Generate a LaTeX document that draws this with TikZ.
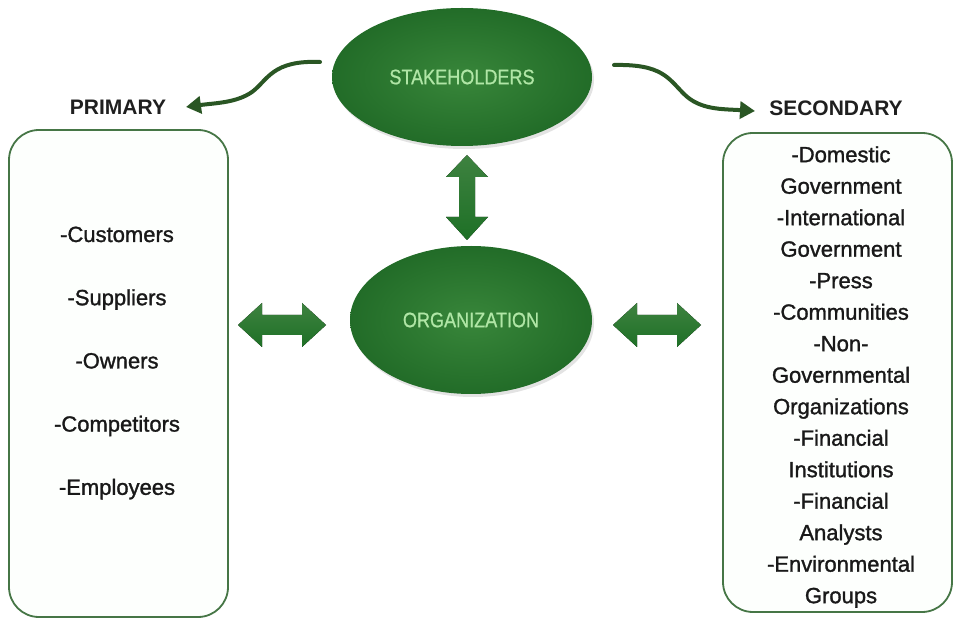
\documentclass[tikz,border=0pt]{standalone}
\usepackage{fontspec}
\setmainfont{Liberation Sans}
\newfontfamily\narrowfont[FakeStretch=0.86,FakeBold=0.8]{Liberation Sans}
\newfontfamily\listfont[FakeBold=1.3]{Liberation Sans}
\usetikzlibrary{shapes.geometric,shadows,arrows.meta}
\definecolor{ellgreenA}{RGB}{56,134,58}
\definecolor{ellgreenB}{RGB}{34,108,40}
\definecolor{elltext}{RGB}{176,230,166}
\definecolor{arrgreenA}{RGB}{62,130,64}
\definecolor{arrgreenB}{RGB}{30,112,38}
\definecolor{curvegreen}{RGB}{42,86,36}
\definecolor{boxline}{RGB}{70,118,70}
\definecolor{boxfill}{RGB}{253,255,253}
\tikzset{
  ellnode/.style={ellipse, inner color=ellgreenA, outer color=ellgreenB,
    text=elltext, font=\narrowfont\fontsize{21}{24}\selectfont,
    drop shadow={opacity=0.22, shadow xshift=2pt, shadow yshift=-3pt}},
  listbox/.style={draw=boxline, line width=1.8pt, fill=boxfill, rounded corners=30pt},
  heading/.style={font=\bfseries\fontsize{21}{24}\selectfont, text=black!88},
  listtext/.style={align=center, text=black!90},
  fatarrow/.style={top color=arrgreenA, bottom color=arrgreenB, draw=none},
  curvearrow/.style={draw=curvegreen, line width=4pt, line cap=round,
    -{Triangle[length=15pt,width=17pt]}}
}
\begin{document}
\begin{tikzpicture}[x=1pt,y=-1pt]
\useasboundingbox (0,0) rectangle (954,620);
% boxes
\draw[listbox] (9,130) rectangle (228,617);
\draw[listbox] (723,133) rectangle (952,612);
% ellipses
\node[ellnode, minimum width=260pt, minimum height=138pt] (stake) at (462,77) {STAKEHOLDERS};
\node[ellnode, minimum width=242pt, minimum height=148pt] (org) at (471,320) {ORGANIZATION};
% headings
\node[heading] (prim) at (118,107) {PRIMARY};
\node[heading] (sec) at (836,108) {SECONDARY};
% list texts
\node[listtext, font=\listfont\fontsize{22}{63.2}\selectfont] (plist) at (117,363) {-Customers\\-Suppliers\\-Owners\\-Competitors\\-Employees};
\node[listtext, font=\listfont\fontsize{22}{31.5}\selectfont] (slist) at (841,377) {-Domestic\\Government\\-International\\Government\\-Press\\-Communities\\-Non-\\Governmental\\Organizations\\-Financial\\Institutions\\-Financial\\Analysts\\-Environmental\\Groups};
% curved arrows
\coordinate (sl) at (320,62);
\coordinate (sr) at (614,65);
\coordinate (tl) at (186,107);
\coordinate (tr) at (755,111);
\draw[curvearrow] (sl) .. controls (272,60) and (268,80) .. (252,92) .. controls (236,103) and (215,103) .. (tl);
\draw[curvearrow] (sr) .. controls (662,64) and (668,78) .. (684,94) .. controls (700,110) and (722,109) .. (tr);
% vertical double arrow
\coordinate (va) at (467,197);
\fill[fatarrow] ([shift={(0,-42)}]va) -- ([shift={(21,-20)}]va) -- ([shift={(8,-20)}]va) -- ([shift={(8,20)}]va) -- ([shift={(21,20)}]va) -- ([shift={(0,43)}]va) -- ([shift={(-21,20)}]va) -- ([shift={(-8,20)}]va) -- ([shift={(-8,-20)}]va) -- ([shift={(-21,-20)}]va) -- cycle;
% left double arrow
\coordinate (la) at (282,325);
\fill[fatarrow] ([shift={(-44,0)}]la) -- ([shift={(-20,-22)}]la) -- ([shift={(-20,-10)}]la) -- ([shift={(20,-10)}]la) -- ([shift={(20,-22)}]la) -- ([shift={(44,0)}]la) -- ([shift={(20,22)}]la) -- ([shift={(20,10)}]la) -- ([shift={(-20,10)}]la) -- ([shift={(-20,22)}]la) -- cycle;
% right double arrow
\coordinate (ra) at (657,325);
\fill[fatarrow] ([shift={(-44,0)}]ra) -- ([shift={(-20,-22)}]ra) -- ([shift={(-20,-10)}]ra) -- ([shift={(20,-10)}]ra) -- ([shift={(20,-22)}]ra) -- ([shift={(44,0)}]ra) -- ([shift={(20,22)}]ra) -- ([shift={(20,10)}]ra) -- ([shift={(-20,10)}]ra) -- ([shift={(-20,22)}]ra) -- cycle;
\end{tikzpicture}
\end{document}
